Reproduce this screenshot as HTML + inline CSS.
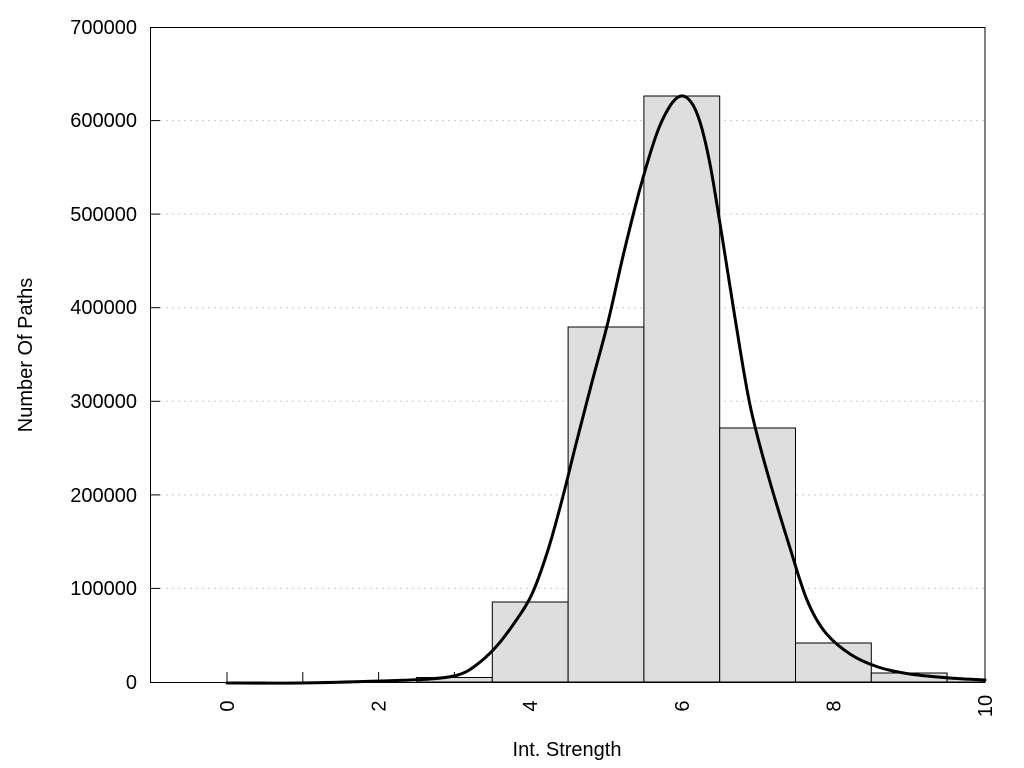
<!DOCTYPE html>
<html><head><meta charset="utf-8"><style>
html,body{margin:0;padding:0;background:#fff;}
svg{display:block;font-family:"Liberation Sans",Arial,sans-serif;}
</style></head><body>
<svg width="1024" height="768" viewBox="0 0 1024 768" xmlns="http://www.w3.org/2000/svg">
<rect width="1024" height="768" fill="#fff"/>
<g stroke="#c8c8c8" stroke-width="1" stroke-dasharray="2,4">
<line x1="160" y1="588.4" x2="985" y2="588.4"/>
<line x1="160" y1="494.9" x2="985" y2="494.9"/>
<line x1="160" y1="401.3" x2="985" y2="401.3"/>
<line x1="160" y1="307.7" x2="985" y2="307.7"/>
<line x1="160" y1="214.1" x2="985" y2="214.1"/>
<line x1="160" y1="120.6" x2="985" y2="120.6"/>
</g>
<g stroke="#000" stroke-width="1">
<line x1="150" y1="588.4" x2="160" y2="588.4"/>
<line x1="150" y1="494.9" x2="160" y2="494.9"/>
<line x1="150" y1="401.3" x2="160" y2="401.3"/>
<line x1="150" y1="307.7" x2="160" y2="307.7"/>
<line x1="150" y1="214.1" x2="160" y2="214.1"/>
<line x1="150" y1="120.6" x2="160" y2="120.6"/>
<line x1="227" y1="672" x2="227" y2="682"/>
<line x1="302.8" y1="672" x2="302.8" y2="682"/>
<line x1="378.6" y1="672" x2="378.6" y2="682"/>
<line x1="454.4" y1="672" x2="454.4" y2="682"/>
</g>
<g fill="#dedede" stroke="#000" stroke-width="1">
<rect x="227" y="682" width="38" height="1"/>
<rect x="416.5" y="677.5" width="75.8" height="4.5"/>
<rect x="492.3" y="602" width="75.8" height="80"/>
<rect x="568.1" y="327" width="75.8" height="355"/>
<rect x="643.9" y="96" width="75.8" height="586"/>
<rect x="719.7" y="428" width="75.8" height="254"/>
<rect x="795.5" y="643" width="75.8" height="39"/>
<rect x="871.3" y="673" width="75.8" height="9"/>
<rect x="947.1" y="679" width="37.9" height="3"/>
</g>
<path id="curve" fill="none" stroke="#000" stroke-width="3" stroke-linejoin="round" stroke-linecap="round" d="M227,683 L985,680"/>
<rect x="150.5" y="27.5" width="834.5" height="655" fill="none" stroke="#000" stroke-width="1"/>
<g font-size="20" fill="#000" text-anchor="end">
<text x="137" y="689">0</text>
<text x="137" y="595">100000</text>
<text x="137" y="502">200000</text>
<text x="137" y="408">300000</text>
<text x="137" y="314">400000</text>
<text x="137" y="221">500000</text>
<text x="137" y="127">600000</text>
<text x="137" y="34">700000</text>
</g>
<g font-size="20" fill="#000" text-anchor="middle">
<text transform="translate(234,706) rotate(-90)">0</text>
<text transform="translate(385.6,706) rotate(-90)">2</text>
<text transform="translate(537.2,706) rotate(-90)">4</text>
<text transform="translate(688.8,706) rotate(-90)">6</text>
<text transform="translate(840.4,706) rotate(-90)">8</text>
<text transform="translate(992,706) rotate(-90)">10</text>
<text x="567" y="756">Int. Strength</text>
<text transform="translate(32,355) rotate(-90)">Number Of Paths</text>
</g>
</svg>
<script>
var p=[[227,683],[300,683],[380,681],[430,679],[458,675],[475,666],[495,648],[515,622],[532,594],[548,550],[562,500],[576,444],[592,382],[608,322],[624,252],[641,185],[657,133],[670,106],[681,96],[691,102],[700,122],[710,164],[722,236],[735,318],[750,405],[768,475],[790,548],[807,600],[825,632],[850,654],[878,667],[910,674],[950,678],[985,680]];
var d="M"+p[0][0]+","+p[0][1];
for(var i=0;i<p.length-1;i++){var a=p[i-1]||p[i],b=p[i],c=p[i+1],e=p[i+2]||c;
d+=" C"+(b[0]+(c[0]-a[0])/6).toFixed(1)+","+(b[1]+(c[1]-a[1])/6).toFixed(1)+" "+(c[0]-(e[0]-b[0])/6).toFixed(1)+","+(c[1]-(e[1]-b[1])/6).toFixed(1)+" "+c[0]+","+c[1];}
document.getElementById("curve").setAttribute("d",d);
</script>
</body></html>
